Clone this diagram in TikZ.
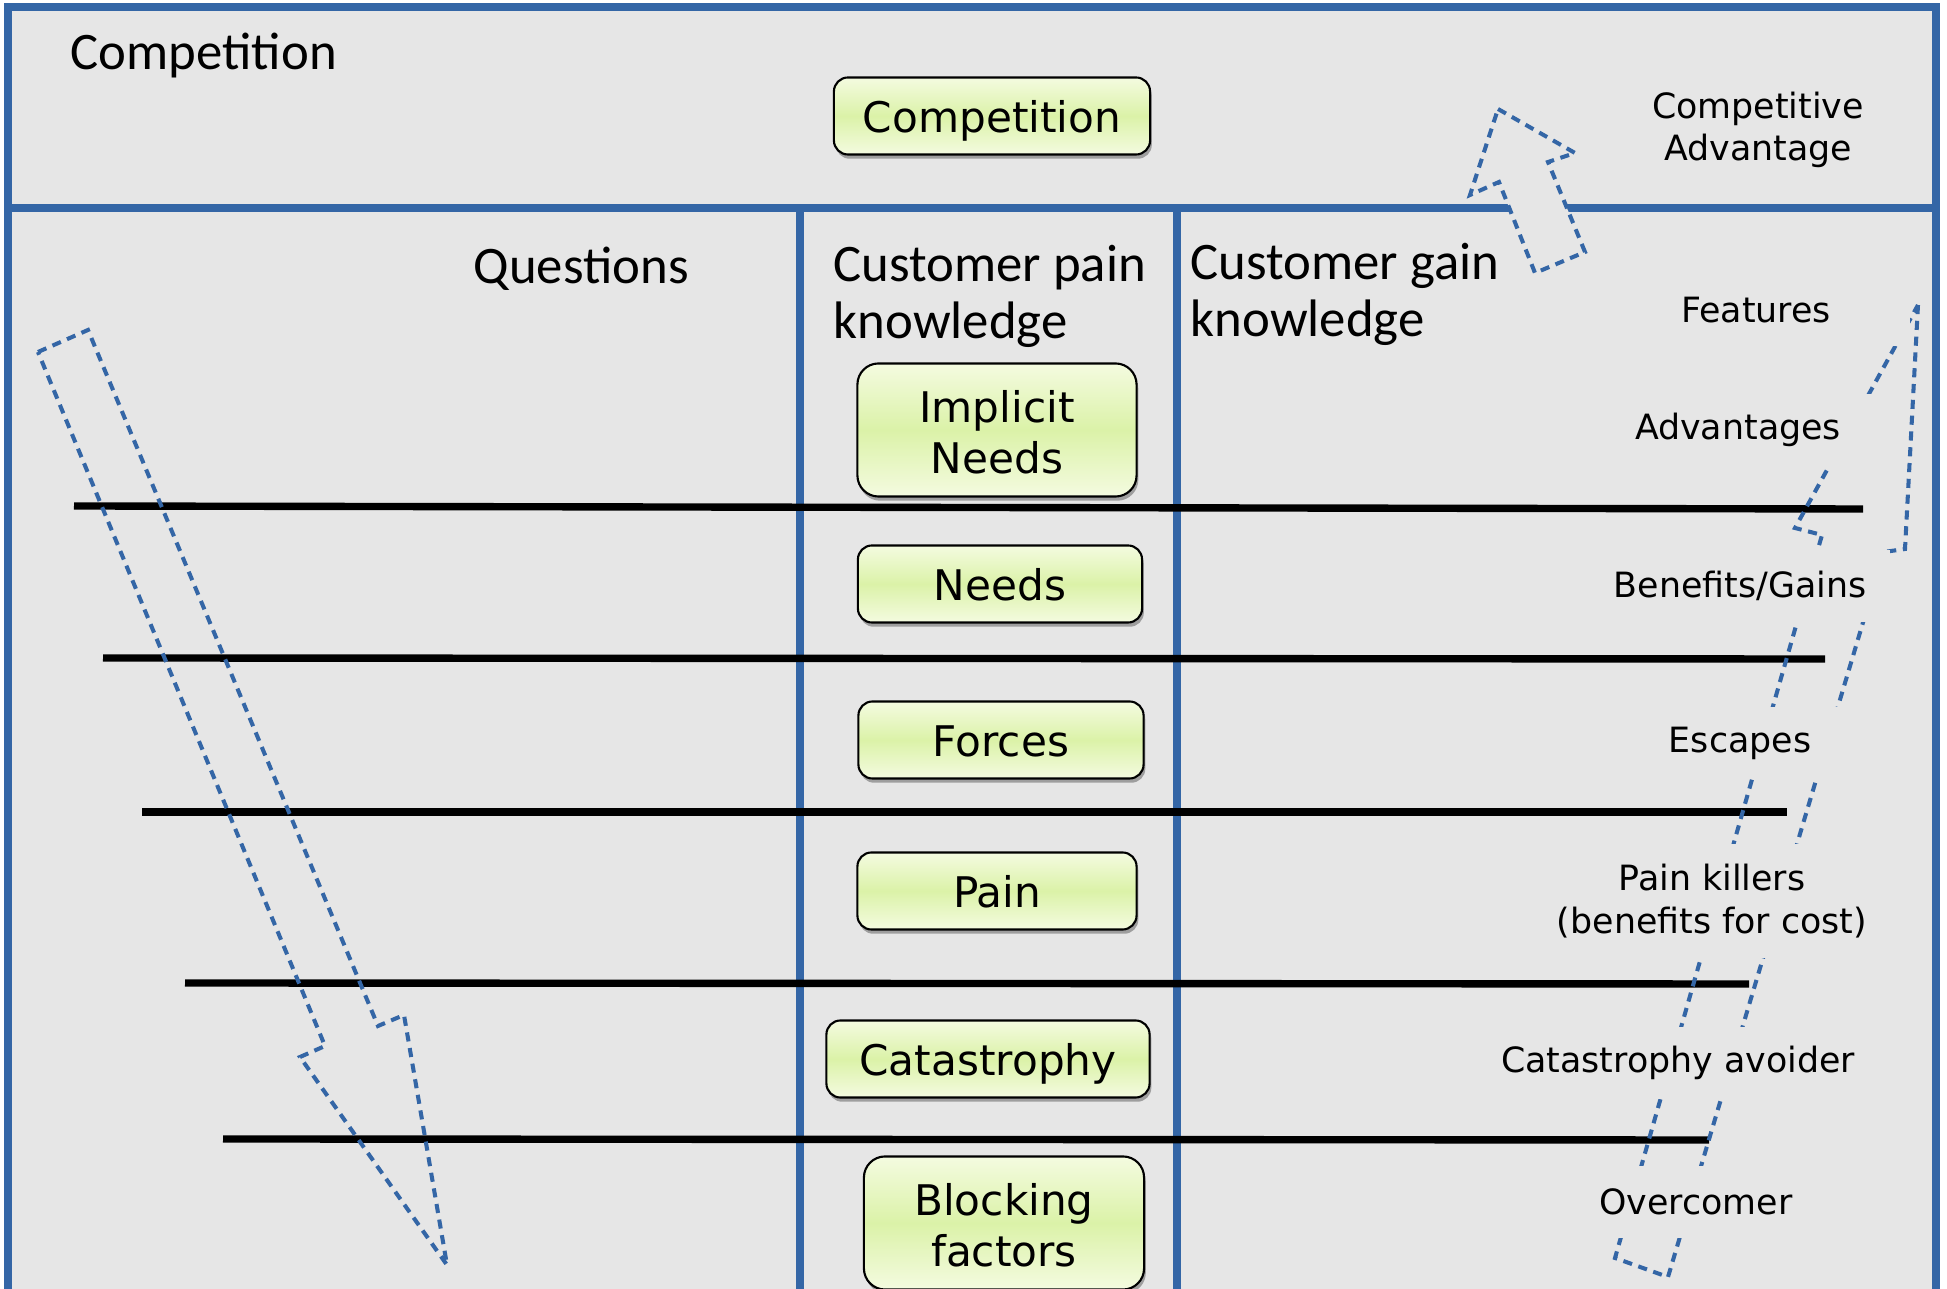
\documentclass[tikz,border=0pt]{standalone}
\usepackage{fontspec}
\setmainfont{Carlito}
\newfontfamily\boxfont{DejaVu Sans}
\usetikzlibrary{shadows}
\definecolor{panelgray}{RGB}{230,230,230}
\definecolor{frameblue}{RGB}{52,102,166}
\definecolor{greentop}{RGB}{244,251,224}
\definecolor{greenmid}{RGB}{219,242,168}
\tikzset{
  frameline/.style={frameblue,line width=2pt},
  rule/.style={black,line width=2.1pt},
  flowarrow/.style={frameblue,line width=1.15pt,dash pattern=on 2.6pt off 1.9pt,line join=miter},
  header/.style={font=\fontsize{15}{16.2}\selectfont,inner sep=0pt,align=left},
  greenbox/.style={draw=black,line width=0.6pt,rounded corners=4pt,
    top color=greentop,bottom color=greentop,middle color=greenmid,
    drop shadow={shadow xshift=0.5pt,shadow yshift=-1.2pt,fill=black!50,opacity=.7},
    font=\boxfont\fontsize{12}{14.5}\selectfont,align=center,inner sep=0pt,minimum height=0.77cm},
  oneline/.style={text height=0.93em,text depth=0pt},
  sidelabel/.style={fill=panelgray,font=\boxfont\fontsize{9.9}{12}\selectfont,
    align=center,inner sep=0pt,minimum width=3cm,minimum height=0.72cm}
}
\begin{document}
\begin{tikzpicture}[x=0.01cm,y=-0.01cm]
    \useasboundingbox (0,0) rectangle (1947,1289);
    \fill[white] (0,0) rectangle (1947,1289);
    \fill[panelgray] (8,7) rectangle (1936,1320);
    % frame and columns
    \draw[frameline] (8,1320) -- (8,7) -- (1936,7) -- (1936,1320);
    \draw[frameline] (8,208) -- (1936,208);
    \draw[frameline] (800,208) -- (800,1320);
    \draw[frameline] (1177,208) -- (1177,1320);
    % levels
    \draw[rule] (74,506) -- (1863,509);
    \draw[rule] (103,658) -- (1825,659);
    \draw[rule] (142,812) -- (1787,812);
    \draw[rule] (185,983) -- (1749,984);
    \draw[rule] (223,1139) -- (1709,1140);
    % questions arrow
    \draw[flowarrow] (38,352) -- (88,330) -- (378,1026) -- (404,1015) -- (447,1265) -- (300,1057) -- (325,1046) -- cycle;
    % competitive advantage arrow
    \draw[flowarrow,fill=panelgray] (1498,109) -- (1575,153) -- (1548,162) -- (1585,252) -- (1535,273) -- (1499,182) -- (1470,195) -- cycle;
    % gain arrow
    \draw[flowarrow] (1918,305) -- (1905,549) -- (1884,552) -- (1668,1277) -- (1615,1258) -- (1822,535) -- (1795,528) -- cycle;

    \node[header,anchor=base west] (compTitle) at (70,70) {Competition};
    \node[header,anchor=base west] (questions) at (473,284) {Questions};
    \node[header,anchor=west] (painTitle) at (833,296) {Customer pain\\knowledge};
    \node[header,anchor=west] (gainTitle) at (1190,294) {Customer gain\\knowledge};

    \node[greenbox,oneline,minimum width=3.16cm] (competition) at (992,116) {Competition};
    \node[greenbox,minimum width=2.79cm,minimum height=1.33cm,rounded corners=6pt] (implicit) at (997,430) {\rule{0pt}{10.5pt}Implicit\\Needs};
    \node[greenbox,oneline,minimum width=2.84cm] (needs) at (1000,584) {Needs};
    \node[greenbox,oneline,minimum width=2.85cm] (forces) at (1001,740) {Forces};
    \node[greenbox,oneline,minimum width=2.79cm] (pain) at (997,891) {Pain};
    \node[greenbox,oneline,minimum width=3.23cm] (catastrophy) at (988,1059) {Catastrophy};
    \node[greenbox,minimum width=2.80cm,minimum height=1.33cm,rounded corners=6pt] (blocking) at (1004,1223) {\rule{0pt}{10.6pt}Blocking\\factors};

    \node[sidelabel] (compAdv) at (1758,130) {Competitive\\Advantage};
    \node[sidelabel,minimum width=3.08cm] (features) at (1756,310) {Features};
    \node[sidelabel] (advantages) at (1738,430) {Advantages};
    \node[sidelabel] (benefits) at (1740,586) {Benefits/Gains};
    \node[sidelabel] (escapes) at (1740,743) {Escapes};
    \node[sidelabel,minimum width=3.3cm,minimum height=1.14cm] (painKillers) at (1712,901) {Pain killers\\(benefits for cost)};
    \node[sidelabel,minimum width=3.7cm] (avoider) at (1678,1063) {Catastrophy avoider};
    \node[sidelabel] (overcomer) at (1696,1202) {Overcomer};
\end{tikzpicture}
\end{document}
